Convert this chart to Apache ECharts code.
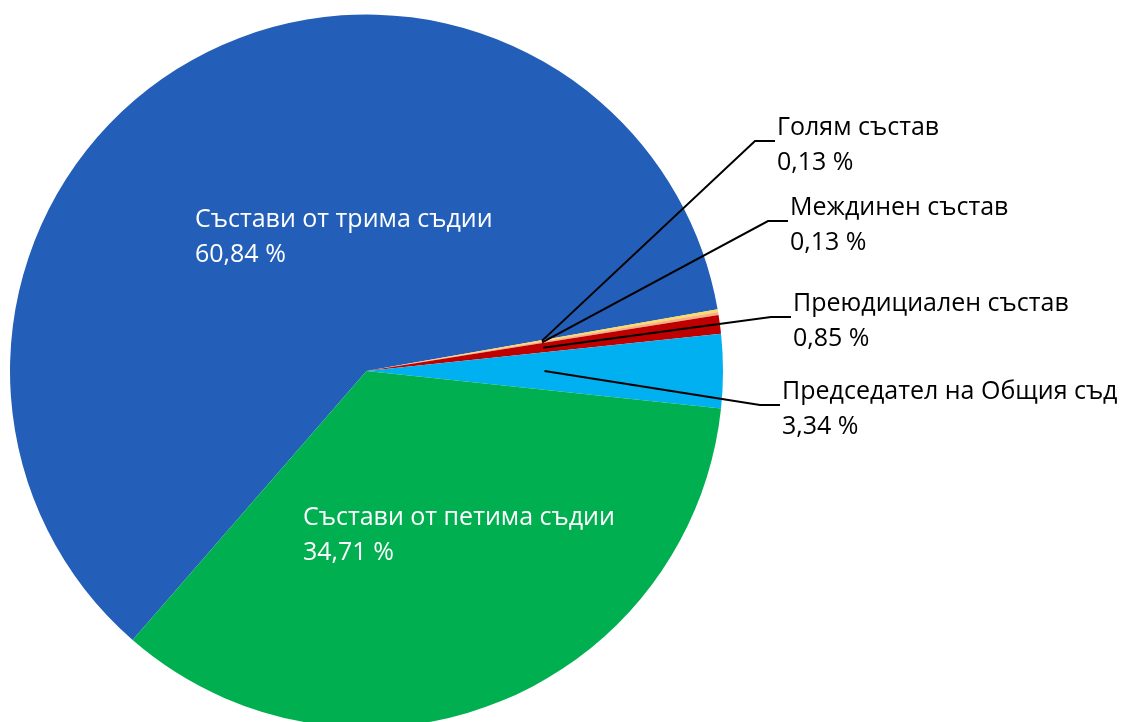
<!DOCTYPE html>
<html><head><meta charset="utf-8">
<script src="https://cdn.jsdelivr.net/npm/echarts@6/dist/echarts.min.js"></script>
<style>html,body{margin:0;padding:0;background:#fff}#c{width:1124px;height:722px}</style>
</head><body><div id="c"></div>
<script>
const categories = ['Състави от трима съдии','Голям състав','Междинен състав','Преюдициален състав','Председател на Общия съд','Състави от петима съдии'];
const values = [60.84, 0.13, 0.13, 0.85, 3.34, 34.71];
const colors = ['#235EB8','#FFD966','#F4B183','#C00000','#00B0F0','#00AF50'];
const insideLabel = [true, false, false, false, false, true];
const labelPos = [[195,237],[777,145],[790,225],[793,321],[782,409],[303,535]];

const CX = 366.5, CY = 371, R = 356.5, START = 229, ANCHOR_R = 178;
const total = values.reduce((a,b)=>a+b,0);
const cum = []; let acc = 0;
values.forEach(v => { cum.push(acc); acc += v; });

const fmt = v => v.toFixed(2).replace('.', ',') + ' %';

const leaderLines = [];
values.forEach((v, i) => {
  if (insideLabel[i]) return;
  const pos = labelPos[i];
  const a = (START - 360 * (cum[i] + v / 2) / total) * Math.PI / 180;
  const ax = CX + ANCHOR_R * Math.cos(a), ay = CY - ANCHOR_R * Math.sin(a);
  const sy = pos[1] - 4;
  leaderLines.push({
    type: 'polyline', z: 100,
    shape: { points: [[ax, ay], [pos[0] - 22, sy], [pos[0] - 2, sy]] },
    style: { stroke: '#000', lineWidth: 2, fill: null }
  });
});

const chart = echarts.init(document.getElementById('c'), null, {renderer:'canvas'});
chart.setOption({
  animation: false,
  graphic: leaderLines,
  series: [{
    type: 'pie',
    center: [CX, CY],
    radius: R,
    startAngle: START,
    clockwise: true,
    avoidLabelOverlap: false,
    minShowLabelAngle: 0,
    itemStyle: { borderWidth: 0 },
    emphasis: { disabled: true },
    label: {
      show: true,
      position: 'outside',
      fontFamily: 'Open Sans',
      fontSize: 25,
      lineHeight: 35,
      color: '#000',
      align: 'left',
      formatter: p => p.name + '\n' + fmt(p.value)
    },
    labelLine: { show: false },
    labelLayout: function (p) {
      const pos = labelPos[p.dataIndex];
      return { x: pos[0], y: pos[1], align: 'left', verticalAlign: 'middle' };
    },
    data: categories.map((n, i) => ({
      name: n,
      value: values[i],
      itemStyle: { color: colors[i] },
      label: insideLabel[i] ? { color: '#fff' } : {}
    }))
  }]
});
</script>
</body></html>
